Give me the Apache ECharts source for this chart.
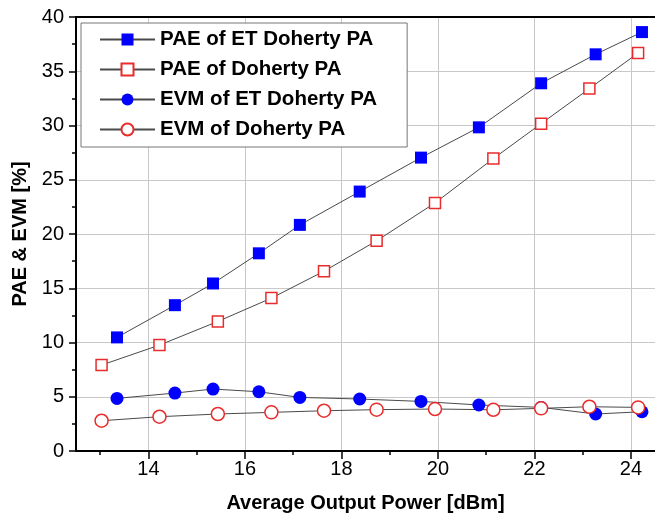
<!DOCTYPE html>
<html>
<head>
<meta charset="utf-8">
<script src="https://cdn.jsdelivr.net/npm/echarts@6/dist/echarts.min.js"></script>
<style>
html,body{margin:0;padding:0;background:#fff;}
#chart{width:655px;height:518px;}
</style>
</head>
<body>
<div id="chart"></div>
<script>
// Data
var seriesNames = ['PAE of ET Doherty PA', 'PAE of Doherty PA', 'EVM of ET Doherty PA', 'EVM of Doherty PA'];
var powerET = [13.35, 14.55, 15.34, 16.29, 17.14, 18.38, 19.65, 20.85, 22.14, 23.27, 24.23];
var powerDoherty = [13.03, 14.23, 15.44, 16.55, 17.64, 18.73, 19.94, 21.15, 22.14, 23.14, 24.15];
var paeET = [10.47, 13.44, 15.44, 18.22, 20.84, 23.91, 27.04, 29.83, 33.89, 36.56, 38.61];
var paeDoherty = [7.92, 9.76, 11.94, 14.09, 16.57, 19.37, 22.86, 26.95, 30.17, 33.40, 36.68];
var evmET = [4.85, 5.34, 5.71, 5.46, 4.94, 4.79, 4.57, 4.24, 4.02, 3.41, 3.62];
var evmDoherty = [2.79, 3.16, 3.41, 3.56, 3.71, 3.81, 3.87, 3.80, 3.93, 4.08, 4.02];
var xTicks = [14, 16, 18, 20, 22, 24];
var xMinorTicks = [13, 15, 17, 19, 21, 23];
var yTicks = [0, 5, 10, 15, 20, 25, 30, 35, 40];

function pairs(xs, ys) { return xs.map(function (x, i) { return [x, ys[i]]; }); }

var FONT = "'Liberation Sans', Arial, sans-serif";
var BLUE = '#0000ff';
var RED = '#ea2b2b';
var LINE = { color: '#4a4a4a', width: 1 };
var XMIN = 12.5, XMAX = 24.5;

var chart = echarts.init(document.getElementById('chart'), null, { renderer: 'canvas' });
chart.setOption({
  animation: false,
  backgroundColor: '#fff',
  grid: { left: 76, top: 17, right: -4, bottom: 66, containLabel: false },
  legend: {
    orient: 'vertical',
    left: 81, top: 23,
    padding: [6, 30, 7, 18],
    itemWidth: 55, itemHeight: 15, itemGap: 9,
    borderColor: '#777', borderWidth: 1, backgroundColor: '#fff',
    textStyle: { fontFamily: FONT, fontSize: 20.5, fontWeight: 'bold', color: '#000', lineHeight: 20 },
    data: seriesNames
  },
  xAxis: [{
    type: 'value', min: XMIN, max: XMAX,
    name: 'Average Output Power [dBm]', nameLocation: 'middle', nameGap: 42,
    nameTextStyle: { fontFamily: FONT, fontSize: 20, fontWeight: 'bold', color: '#000' },
    axisLine: { show: true, onZero: false, lineStyle: { color: '#000', width: 2 } },
    axisTick: { show: true, inside: false, length: 8, customValues: xTicks, lineStyle: { color: '#000', width: 1.5 } },
    axisLabel: { fontFamily: FONT, fontSize: 20, color: '#000', margin: 8, customValues: xTicks },
    splitLine: { show: true, lineStyle: { color: '#c8c8c8', width: 1 } }
  }, {
    type: 'value', position: 'bottom', min: XMIN, max: XMAX,
    axisLine: { show: false, onZero: false },
    axisTick: { show: true, inside: false, length: 4, customValues: xMinorTicks, lineStyle: { color: '#000', width: 1.5 } },
    axisLabel: { show: false, customValues: xMinorTicks }, splitLine: { show: false }
  }, {
    type: 'value', position: 'top', min: XMIN, max: XMAX,
    axisLine: { show: true, onZero: false, lineStyle: { color: '#000', width: 2 } },
    axisTick: { show: false }, axisLabel: { show: false }, splitLine: { show: false }
  }],
  yAxis: [{
    type: 'value', min: 0, max: 40, interval: 5,
    name: 'PAE & EVM [%]', nameLocation: 'middle', nameGap: 40,
    nameTextStyle: { fontFamily: FONT, fontSize: 20, fontWeight: 'bold', color: '#000' },
    axisLine: { show: true, onZero: false, lineStyle: { color: '#000', width: 2 } },
    axisTick: { show: true, inside: false, length: 7, lineStyle: { color: '#000', width: 1.5 } },
    minorTick: { show: true, splitNumber: 2, length: 4, lineStyle: { color: '#000', width: 1.5 } },
    axisLabel: {
      fontFamily: FONT, fontSize: 20, color: '#000', margin: 12,
      formatter: function (v) { return yTicks.indexOf(v) >= 0 ? String(v) : ''; }
    },
    splitLine: { show: true, lineStyle: { color: '#c8c8c8', width: 1 } }
  }],
  series: [{
    name: seriesNames[0], type: 'line', data: pairs(powerET, paeET),
    symbol: 'rect', symbolSize: 12,
    lineStyle: LINE, itemStyle: { color: BLUE, borderWidth: 0 }
  }, {
    name: seriesNames[1], type: 'line', data: pairs(powerDoherty, paeDoherty),
    symbol: 'rect', symbolSize: 11,
    lineStyle: LINE, itemStyle: { color: '#fff', borderColor: RED, borderWidth: 1.5 }
  }, {
    name: seriesNames[2], type: 'line', data: pairs(powerET, evmET),
    symbol: 'circle', symbolSize: 13,
    lineStyle: LINE, itemStyle: { color: BLUE, borderWidth: 0 }
  }, {
    name: seriesNames[3], type: 'line', data: pairs(powerDoherty, evmDoherty),
    symbol: 'circle', symbolSize: 13,
    lineStyle: LINE, itemStyle: { color: '#fff', borderColor: RED, borderWidth: 1.5 }
  }]
});
</script>
</body>
</html>
